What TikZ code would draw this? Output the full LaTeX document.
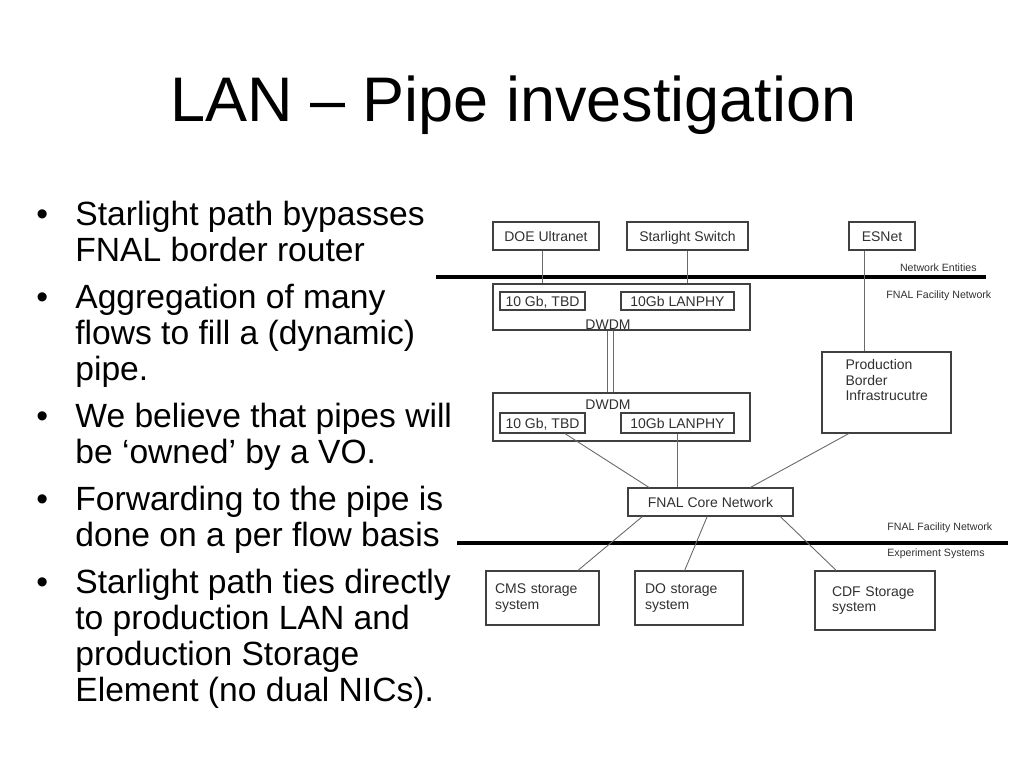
\documentclass[tikz,border=0pt]{standalone}
\usepackage{fontspec}
\setmainfont{Liberation Sans}
\usetikzlibrary{calc}

\definecolor{boxgray}{HTML}{404040}
\definecolor{linkgray}{HTML}{6A6A6A}
\definecolor{txtgray}{HTML}{303030}

\begin{document}
\begin{tikzpicture}[x=0.5pt, y=-0.5pt,
        box/.style={draw=boxgray, line width=0.55pt, rectangle, inner sep=0pt, text=txtgray, font=\fontsize{7}{7.8}\selectfont},
        unit/.style={box, text height=5.2pt, text depth=0.2pt},
        link/.style={draw=linkgray, line width=0.45pt},
        divider/.style={line width=1.6pt},
        tag/.style={inner sep=0pt, text=txtgray, font=\fontsize{5.3}{6}\selectfont},
        item/.style={inner sep=0pt, align=left, anchor=base west, font=\fontsize{16.8}{18}\selectfont},
        dot/.style={inner sep=0pt, anchor=base west, font=\fontsize{16.8}{18}\selectfont}]

    \useasboundingbox (0,0) rectangle (1024,768);

    % Titulo
    \node (title) [inner sep=0pt, anchor=base, font=\fontsize{31.5}{36}\selectfont] at (513.5,121) {LAN – Pipe investigation};

    % Topicos (base = ultima linha)
    \node (t1) [item] at (75,261) {Starlight path bypasses\\FNAL border router};
    \node (t2) [item] at (75,380) {Aggregation of many\\flows to fill a (dynamic)\\pipe.};
    \node (t3) [item] at (75,463) {We believe that pipes will\\be ‘owned’ by a VO.};
    \node (t4) [item] at (75,546) {Forwarding to the pipe is\\done on a per flow basis};
    \node (t5) [item] at (75,701) {Starlight path ties directly\\to production LAN and\\production Storage\\Element (no dual NICs).};
    \node (d1) [dot] at (36,225) {•};
    \node (d2) [dot] at (36,308) {•};
    \node (d3) [dot] at (36,427) {•};
    \node (d4) [dot] at (36,510) {•};
    \node (d5) [dot] at (36,593) {•};

    % Entidades de rede
    \node (doe) [unit, minimum width=53pt, minimum height=14pt] at (546,236) {DOE Ultranet};
    \node (star) [unit, minimum width=60.5pt, minimum height=14pt] at (687.5,236) {Starlight Switch};
    \node (esnet) [unit, minimum width=33pt, minimum height=14pt] at (882,236) {ESNet};

    % DWDM
    \node (dwdmA) [box, minimum width=128.5pt, minimum height=23pt] at (621.5,307) {};
    \node (tbdA) [unit, minimum width=42.5pt, minimum height=9pt] at (542.5,301) {10 Gb, TBD};
    \node (lanphyA) [unit, minimum width=56.5pt, minimum height=9pt] at (677.5,301) {10Gb LANPHY};
    \node (wdmA) [box, draw=none, anchor=base] at (608,329.5) {DWDM};

    \node (dwdmB) [box, minimum width=128.5pt, minimum height=24pt] at (621.5,417) {};
    \node (wdmB) [box, draw=none, anchor=base] at (608,409.5) {DWDM};
    \node (tbdB) [unit, minimum width=42.5pt, minimum height=10pt] at (542.5,423) {10 Gb, TBD};
    \node (lanphyB) [unit, minimum width=56.5pt, minimum height=10pt] at (677.5,423) {10Gb LANPHY};

    \node (prod) [box, minimum width=64.5pt, minimum height=40.5pt] at (886.5,392.5) {};
    \node (prodtxt) [box, draw=none, align=left, anchor=north west] at (845,359) {Production\\Border\\Infrastrucutre};

    \node (core) [unit, minimum width=82.5pt, minimum height=14pt] at (710.5,502) {FNAL Core Network};

    % Sistemas de experimento
    \node (cms) [box, minimum width=56.5pt, minimum height=27pt, text width=47.5pt, align=left] at (542.5,598) {CMS storage\\system};
    \node (dzero) [box, minimum width=54pt, minimum height=27pt, text width=44pt, align=left] at (689,598) {DO storage\\system};
    \node (cdf) [box, minimum width=60pt, minimum height=29.5pt, text width=43pt, align=left] at (875,600.5) {CDF Storage\\system};

    % Divisores
    \draw[divider] (436,277) -- (986,277);
    \draw[divider] (457,543) -- (1008,543);
    \node (netent) [tag, anchor=base east] at (977,271.8) {Network Entities};
    \node (facA) [tag, anchor=base west] at (886,298.8) {FNAL Facility Network};
    \node (facB) [tag, anchor=base west] at (887,530.8) {FNAL Facility Network};
    \node (expsys) [tag, anchor=base west] at (887,556.8) {Experiment Systems};

    % Conexoes
    \coordinate (doeport) at ($(doe.south west)!0.47!(doe.south east)$);
    \coordinate (esport) at ($(esnet.south west)!0.24!(esnet.south east)$);
    \draw[link] (doeport) -- (doeport |- dwdmA.north);
    \draw[link] (star.south) -- (star.south |- dwdmA.north);
    \draw[link] (esport) -- (esport |- prod.north);
    \draw[link] ([xshift=-0.5pt]wdmA.south |- dwdmA.south) -- ([xshift=-0.5pt]wdmA.south |- dwdmB.north);
    \draw[link] ([xshift=2.5pt]wdmA.south |- dwdmA.south) -- ([xshift=2.5pt]wdmA.south |- dwdmB.north);

    \draw[link] ($(tbdB.south west)!0.76!(tbdB.south east)$) -- ($(core.north west)!0.13!(core.north east)$);
    \draw[link] (lanphyB.south) -- (lanphyB.south |- core.north);
    \draw[link] ($(prod.south west)!0.21!(prod.south east)$) -- ($(core.north west)!0.74!(core.north east)$);

    \draw[link] ($(core.south west)!0.09!(core.south east)$) -- ($(cms.north west)!0.81!(cms.north east)$);
    \draw[link] ($(core.south west)!0.48!(core.south east)$) -- ($(dzero.north west)!0.46!(dzero.north east)$);
    \draw[link] ($(core.south west)!0.92!(core.south east)$) -- ($(cdf.north west)!0.18!(cdf.north east)$);

\end{tikzpicture}
\end{document}
